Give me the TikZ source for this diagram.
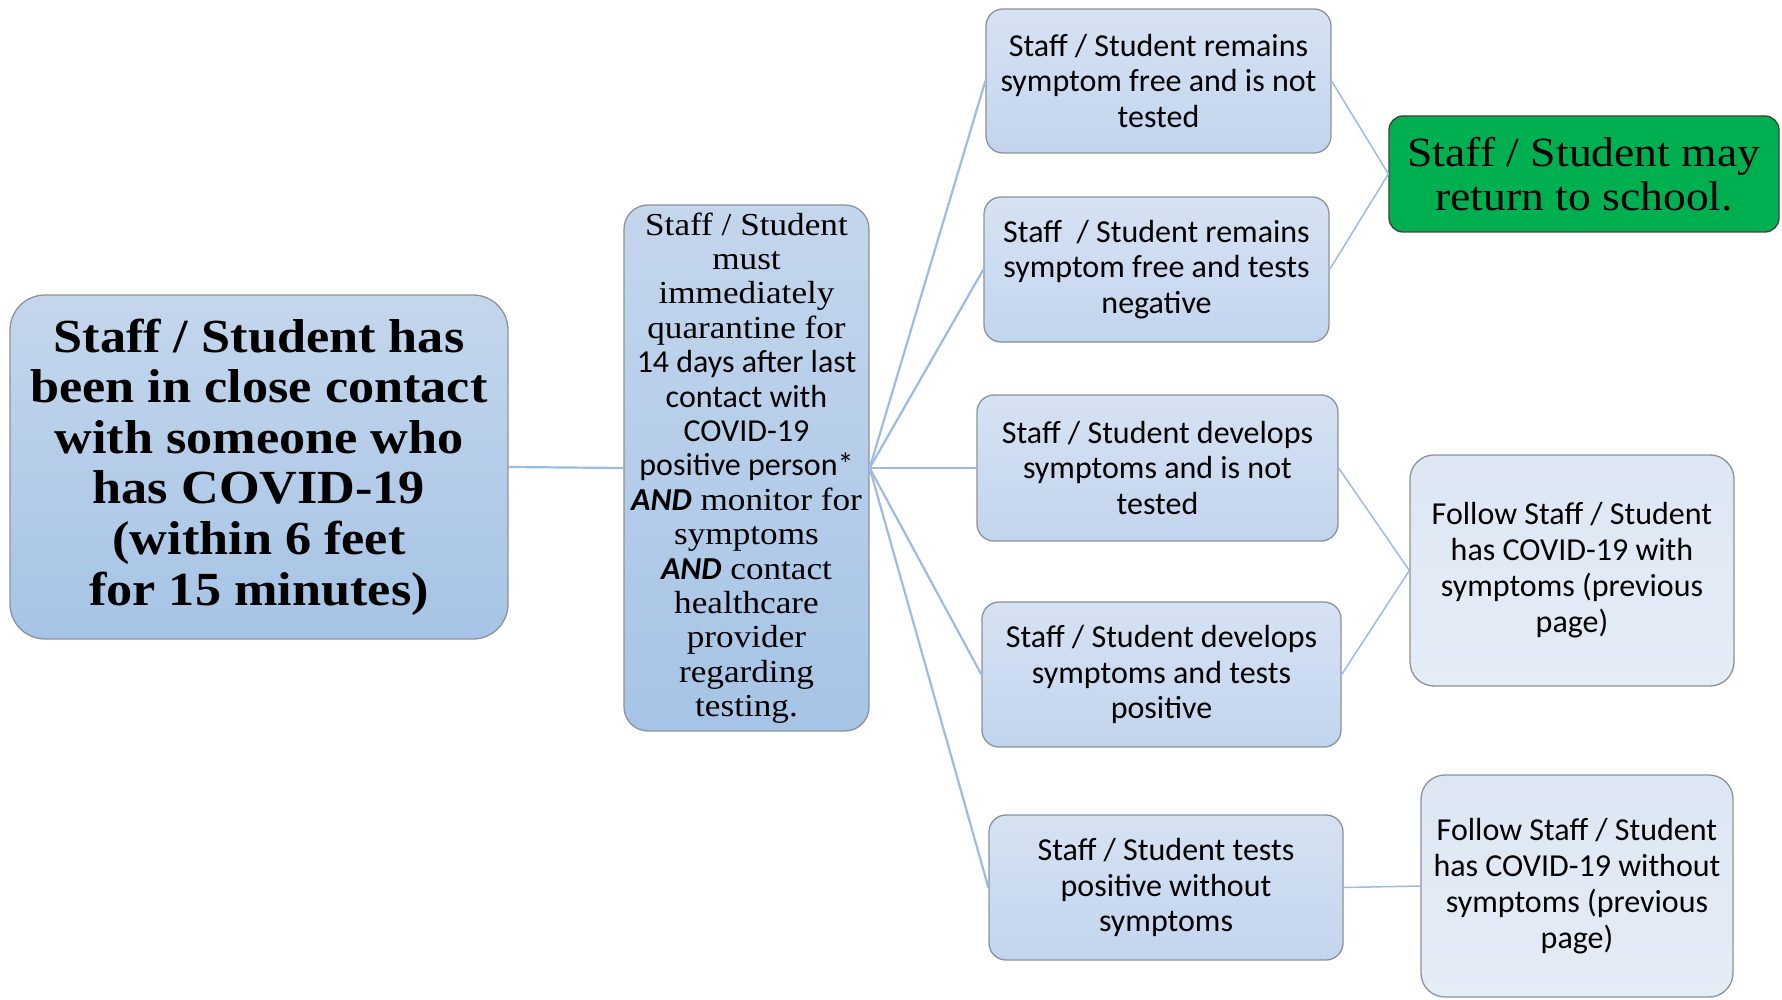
\documentclass[tikz,border=0pt]{standalone}
\usepackage{fontspec}
\setmainfont{Liberation Serif}
\newfontfamily\serifwide[FakeStretch=1.1]{Liberation Serif}
\newfontfamily\calfont{Carlito}
\definecolor{edgeblue}{HTML}{9DBBE3}
\definecolor{boxline}{HTML}{8C929C}
\definecolor{darkA}{HTML}{C4D6EC}
\definecolor{darkB}{HTML}{A6C4E6}
\definecolor{midA}{HTML}{D6E2F2}
\definecolor{midB}{HTML}{C2D5EE}
\definecolor{liteA}{HTML}{DDE7F3}
\definecolor{liteB}{HTML}{E4ECF6}
\definecolor{goodgreen}{HTML}{00B050}
\tikzset{
  base/.style={draw=boxline, line width=1.3pt, align=center, inner sep=0pt},
  bigbox/.style={base, rounded corners=35pt, top color=darkA, bottom color=darkB},
  tallbox/.style={base, rounded corners=24pt, top color=darkA, bottom color=darkB},
  midbox/.style={base, rounded corners=17pt, top color=midA, bottom color=midB,
    font=\calfont\fontsize{32}{35.4}\selectfont},
  litebox/.style={base, rounded corners=24pt, top color=liteA, bottom color=liteB,
    font=\calfont\fontsize{32}{36}\selectfont},
  greenbox/.style={base, draw=black!75, rounded corners=14pt, fill=goodgreen,
    font=\serifwide\fontsize{41.5}{44}\selectfont},
  trunk/.style={draw=edgeblue, line width=2.2pt},
  twig/.style={draw=edgeblue, line width=1.5pt}
}
\begin{document}
\begin{tikzpicture}[x=1pt,y=-1pt]
\path[fill=white, use as bounding box] (0,0) rectangle (1782,1000);
\begin{scope}
\clip (0,0) rectangle (1782,1000);

\node[bigbox, minimum width=498pt, minimum height=344pt,
  font=\serifwide\bfseries\fontsize{47.5}{50.6}\selectfont] (start) at (259,467)
  {Staff / Student has\\been in close contact\\with someone who\\has COVID-19\\(within 6 feet\\for 15 minutes)};

\node[tallbox, minimum width=245pt, minimum height=526pt,
  font=\serifwide\fontsize{32}{34.4}\selectfont] (quar) at (746.5,468)
  {Staff / Student\\must\\immediately\\quarantine for\\
   {\calfont 14 days after last}\\{\calfont contact with}\\{\calfont COVID-19}\\{\calfont positive person*}\\
   {\calfont\bfseries\itshape AND} monitor for\\symptoms\\{\calfont\bfseries\itshape AND} contact\\healthcare\\provider\\regarding\\testing.};

\node[midbox, minimum width=345pt, minimum height=144pt] (freeno) at (1158.5,81)
  {Staff / Student remains\\symptom free and is not\\tested};
\node[midbox, minimum width=345pt, minimum height=145pt] (freeneg) at (1156.5,269.5)
  {Staff \ / Student remains\\symptom free and tests\\negative};
\node[midbox, minimum width=361pt, minimum height=146pt] (sympno) at (1157.5,468)
  {Staff / Student develops\\symptoms and is not\\tested};
\node[midbox, minimum width=359pt, minimum height=145pt] (symppos) at (1161.5,674.5)
  {Staff / Student develops\\symptoms and tests\\positive};
\node[midbox, minimum width=354pt, minimum height=145pt] (asym) at (1166,887.5)
  {Staff / Student tests\\positive without\\symptoms};

\node[greenbox, minimum width=390pt, minimum height=116pt] (ret) at (1584,174)
  {Staff / Student may\\return to school.};
\node[litebox, minimum width=324pt, minimum height=231pt] (withs) at (1572,570.5)
  {Follow Staff / Student\\has COVID-19 with\\symptoms (previous\\page)};
\node[litebox, minimum width=312pt, minimum height=222pt] (withouts) at (1577,886)
  {Follow Staff / Student\\has COVID-19 without\\symptoms (previous\\page)};

\draw[trunk] (start.east) -- (quar.west);
\foreach \t in {freeno,freeneg,sympno,symppos,asym}
  \draw[trunk] (quar.east) -- (\t.west);
\draw[twig] (freeno.east) -- (ret.west);
\draw[twig] (freeneg.east) -- (ret.west);
\draw[twig] (sympno.east) -- (withs.west);
\draw[twig] (symppos.east) -- (withs.west);
\draw[twig] (asym.east) -- (withouts.west);
\end{scope}
\end{tikzpicture}
\end{document}
